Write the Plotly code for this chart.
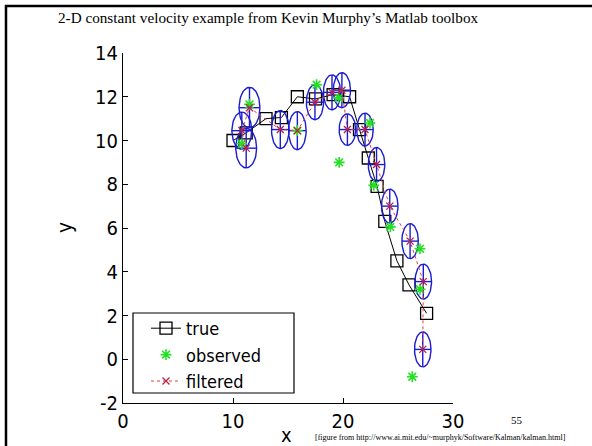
import numpy as np
import plotly.graph_objects as go

# ---------------- data ----------------
true_x = [10.0, 11.2, 13.0, 14.4, 15.85, 17.5, 19.1, 20.6, 21.5, 22.3, 23.1, 23.8, 24.9, 26.0, 27.6]
true_y = [10.0, 10.35, 11.0, 11.05, 12.0, 11.9, 12.1, 12.0, 10.5, 9.2, 7.9, 6.3, 4.5, 3.4, 2.1]

obs_x = [10.8, 11.5, 15.85, 17.6, 19.6, 19.65, 22.45, 22.8, 24.3, 27.0, 27.0, 26.3]
obs_y = [9.85, 11.65, 10.45, 12.55, 11.95, 9.0, 10.8, 7.95, 6.05, 5.05, 3.2, -0.8]

filt_x = [11.2, 10.8, 11.5, 14.3, 15.85, 17.45, 19.0, 19.9, 20.4, 22.0, 23.05, 24.25, 26.1, 27.3, 27.25]
filt_y = [9.65, 10.45, 11.5, 10.5, 10.45, 11.75, 12.2, 12.3, 10.5, 10.5, 8.9, 7.0, 5.4, 3.55, 0.45]
filt_rx = [0.95, 0.9, 0.95, 0.8, 0.8, 0.78, 0.78, 0.78, 0.75, 0.75, 0.75, 0.75, 0.75, 0.75, 0.75]
filt_ry = [0.9, 0.85, 0.93, 0.87, 0.87, 0.8, 0.8, 0.8, 0.72, 0.75, 0.78, 0.78, 0.8, 0.8, 0.8]

x_ticks = [0, 10, 20, 30]
y_ticks = [-2, 0, 2, 4, 6, 8, 10, 12, 14]

title_text = "2-D constant velocity example from Kevin Murphy\u2019s Matlab toolbox"
cite_text = "[figure from http://www.ai.mit.edu/~murphyk/Software/Kalman/kalman.html]"
page_no = "55"

# ---------------- layout geometry ----------------
W, H = 592, 446
L, R, T, B = 123, 139, 53, 43
PW, PH = W - L - R, H - T - B

def px(x):
    return (x - L) / PW

def py(y):
    return (H - B - y) / PH

AX_FONT = "DejaVu Sans Condensed, Liberation Sans Narrow, Arial Narrow, sans-serif"
LEG_FONT = "DejaVu Sans Condensed, Arial, sans-serif"
SERIF = "Liberation Serif, Times New Roman, serif"

# ---------------- ellipses + crosshairs ----------------
th = np.linspace(0, 2 * np.pi, 60)
ex, ey = [], []
for cx, cy, rx, ry in zip(filt_x, filt_y, filt_rx, filt_ry):
    ex += list(cx + rx * np.cos(th)) + [None]
    ey += list(cy + ry * np.sin(th)) + [None]
    ex += [cx - rx, cx + rx, None, cx, cx, None]
    ey += [cy, cy, None, cy - ry, cy + ry, None]

fig = go.Figure()
fig.add_trace(go.Scatter(x=true_x, y=true_y, mode="lines+markers", name="true",
                         line=dict(color="black", width=1),
                         marker=dict(symbol="square-open", size=12, color="black",
                                     line=dict(width=1.3))))
fig.add_trace(go.Scatter(x=ex, y=ey, mode="lines", showlegend=False, hoverinfo="skip",
                         line=dict(color="#1c1cd0", width=1.4)))
fig.add_trace(go.Scatter(x=obs_x, y=obs_y, mode="markers", name="observed",
                         marker=dict(symbol="asterisk-open", size=9, color="#22e022",
                                     line=dict(width=1.6, color="#22e022"))))
fig.add_trace(go.Scatter(x=filt_x, y=filt_y, mode="lines+markers", name="filtered",
                         line=dict(color="#e04040", width=1, dash="dot"),
                         marker=dict(symbol="x-thin-open", size=7, color="#c02040",
                                     line=dict(width=1.3, color="#c02040"))))

shapes = [
    # legend box
    dict(type="rect", xref="paper", yref="paper",
         x0=px(133), x1=px(294), y0=py(313), y1=py(393),
         line=dict(color="black", width=1.2), fillcolor="rgba(0,0,0,0)"),
    # slide border
    dict(type="line", xref="paper", yref="paper", x0=px(5), x1=px(600), y0=py(6), y1=py(6),
         line=dict(color="black", width=2.5)),
    dict(type="line", xref="paper", yref="paper", x0=px(6), x1=px(6), y0=py(5), y1=py(450),
         line=dict(color="black", width=2.5)),
]

annotations = [
    dict(text=title_text, x=px(56), y=py(17), xref="paper", yref="paper",
         xanchor="left", yanchor="middle", showarrow=False,
         font=dict(family=SERIF, size=15.2, color="black")),
    dict(text="y", x=px(65), y=py(228), xref="paper", yref="paper", textangle=-90,
         xanchor="center", yanchor="middle", showarrow=False,
         font=dict(family=AX_FONT, size=21, color="black")),
    dict(text="x", x=px(286), y=py(435), xref="paper", yref="paper",
         xanchor="center", yanchor="middle", showarrow=False,
         font=dict(family=AX_FONT, size=20, color="black")),
    dict(text=page_no, x=px(517), y=py(420), xref="paper", yref="paper",
         xanchor="center", yanchor="middle", showarrow=False,
         font=dict(family=SERIF, size=11, color="black")),
    dict(text=cite_text, x=px(313), y=py(437), xref="paper", yref="paper",
         xanchor="left", yanchor="middle", showarrow=False,
         font=dict(family=SERIF, size=8, color="black")),
]

fig.update_layout(
    width=W, height=H,
    margin=dict(l=L, r=R, t=T, b=B, pad=0),
    paper_bgcolor="white", plot_bgcolor="white",
    showlegend=True,
    legend=dict(x=px(146), y=py(310), xanchor="left", yanchor="top",
                bgcolor="rgba(0,0,0,0)", borderwidth=0,
                font=dict(family=LEG_FONT, size=18, color="black"),
                tracegroupgap=0, itemsizing="trace"),
    shapes=shapes, annotations=annotations,
    xaxis=dict(range=[0, 30], tickvals=x_ticks, ticktext=[str(v) for v in x_ticks],
               showgrid=False, zeroline=False, showline=True, linecolor="black", linewidth=1.2,
               ticks="inside", ticklen=5, tickcolor="black", mirror=False,
               tickfont=dict(family=AX_FONT, size=20, color="black")),
    yaxis=dict(range=[-2, 14], tickvals=y_ticks, ticktext=[str(v) for v in y_ticks],
               showgrid=False, zeroline=False, showline=True, linecolor="black", linewidth=1.2,
               ticks="inside", ticklen=5, tickcolor="black", mirror=False,
               tickfont=dict(family=AX_FONT, size=20, color="black")),
)

fig.write_html("out.html")
